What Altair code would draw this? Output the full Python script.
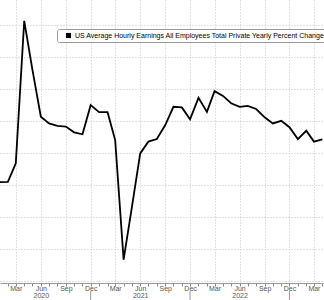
import altair as alt
import pandas as pd

months = [
    "2020-01", "2020-02", "2020-03", "2020-04", "2020-05", "2020-06",
    "2020-07", "2020-08", "2020-09", "2020-10", "2020-11", "2020-12",
    "2021-01", "2021-02", "2021-03", "2021-04", "2021-05", "2021-06",
    "2021-07", "2021-08", "2021-09", "2021-10", "2021-11", "2021-12",
    "2022-01", "2022-02", "2022-03", "2022-04", "2022-05", "2022-06",
    "2022-07", "2022-08", "2022-09", "2022-10", "2022-11", "2022-12",
    "2023-01", "2023-02", "2023-03", "2023-04",
]
yoy = [
    3.08, 3.09, 3.67, 8.13, 6.60, 5.13, 4.92, 4.84, 4.82, 4.64, 4.58, 5.49,
    5.27, 5.27, 4.40, 0.66, 2.28, 3.98, 4.35, 4.43, 4.87, 5.44, 5.42, 5.05,
    5.72, 5.28, 5.93, 5.78, 5.55, 5.44, 5.47, 5.37, 5.11, 4.92, 5.00, 4.80,
    4.43, 4.69, 4.35, 4.42,
]
series_name = "US Average Hourly Earnings All Employees Total Private Yearly Percent Change"
year_breaks = ["2020-12", "2021-12", "2022-12"]
y_ticks = [0, 1, 2, 3, 4, 5, 6, 7, 8]
x_start, x_end = "2020-01-03", "2023-04-07"


def ms(s):
    return int(pd.Timestamp(s, tz="UTC").value // 1_000_000)


df = pd.DataFrame({
    "date": [m + "-01T00:00:00Z" for m in months],
    "yoy": yoy,
    "series": series_name,
})
breaks_df = pd.DataFrame({"date": [m + "-01T00:00:00Z" for m in year_breaks]})

x_scale = alt.Scale(type="utc", domain=[ms(x_start), ms(x_end)], nice=False)
y_scale = alt.Scale(domain=[-0.072, 8.78], nice=False, zero=False)

grid_color = "#c4c4c4"

x_axis = alt.Axis(
    values=[ms(m + "-01") for m in months],
    title=None,
    grid=True,
    gridColor=grid_color,
    gridDash=[1, 2],
    gridWidth=1,
    gridOpacity={"condition": {"test": "utcmonth(datum.value) % 3 == 2", "value": 1}, "value": 0},
    labelExpr="utcmonth(datum.value) % 3 != 2 ? '' : (utcmonth(datum.value) == 5 ? [utcFormat(datum.value, '%b'), utcFormat(datum.value, '%Y')] : utcFormat(datum.value, '%b'))",
    labelFont="Liberation Sans Narrow, Liberation Sans, sans-serif",
    labelFontSize=7,
    labelColor="#555555",
    labelLineHeight=7.5,
    labelPadding=-2,
    labelOverlap=False,
    labelFlush=False,
    labelBound=False,
    tickSize=3,
    tickColor="#888888",
    tickWidth=1,
    domainColor="#999999",
    domainWidth=1,
)

y_axis = alt.Axis(
    values=y_ticks,
    title=None,
    labels=False,
    ticks=False,
    domain=False,
    grid=True,
    gridColor=grid_color,
    gridDash=[1, 2],
    gridWidth=1,
)

line = alt.Chart(df).mark_line(color="black", strokeWidth=1.8, clip=True).encode(
    x=alt.X("date:T", scale=x_scale, axis=x_axis),
    y=alt.Y("yoy:Q", scale=y_scale, axis=y_axis),
    color=alt.Color(
        "series:N",
        scale=alt.Scale(range=["black"]),
        legend=alt.Legend(
            title=None,
            orient="none",
            legendX=57,
            legendY=29,
            fillColor="white",
            strokeColor="#9a9a9a",
            cornerRadius=2,
            padding=3,
            symbolType="square",
            symbolSize=26,
            symbolFillColor="black",
            symbolStrokeColor="black",
            symbolStrokeWidth=0,
            symbolOffset=5,
            labelFont="Liberation Sans",
            labelFontSize=7,
            labelColor="black",
            labelLimit=400,
            labelOffset=3,
        ),
    ),
)

seps = alt.Chart(breaks_df).mark_rule(color="#999999", strokeWidth=1, clip=False).encode(
    x=alt.X("date:T", scale=x_scale, axis=x_axis),
    y=alt.value(291),
    y2=alt.value(300),
)

chart = alt.layer(line, seps).properties(
    width=324,
    height=283,
    padding={"left": 0, "top": 0, "right": 0, "bottom": 17},
    autosize=alt.AutoSizeParams(type="none"),
    background="white",
).configure_view(stroke=None)

chart.save("out.html", embed_options={"renderer": "svg", "actions": False})
